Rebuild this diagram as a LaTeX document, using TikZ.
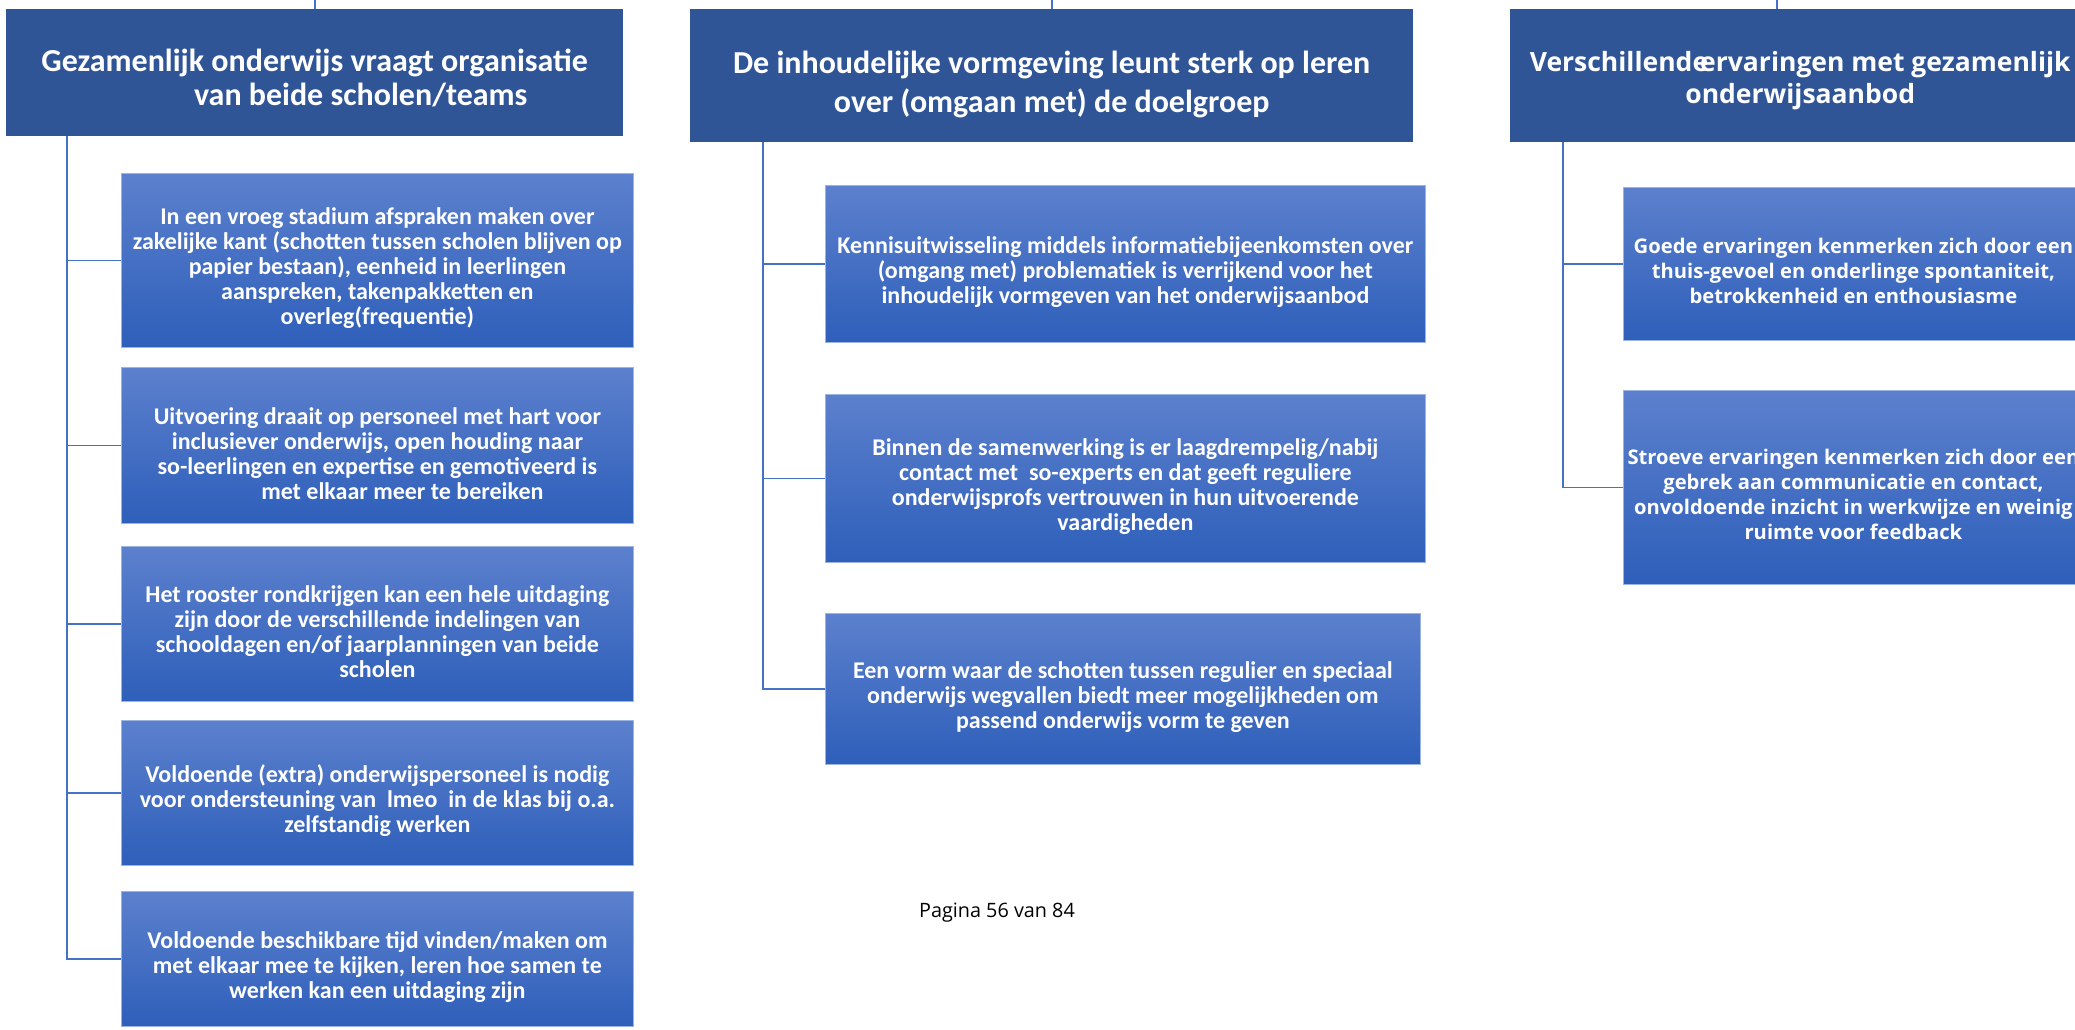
\documentclass[tikz,border=0pt]{standalone}
\usepackage{fontspec}
\setmainfont{Carlito}
\newfontfamily\opensans{Open Sans}
\usepackage{tikz}

\definecolor{kopblauw}{RGB}{47,85,151}
\definecolor{vaktop}{RGB}{92,128,205}
\definecolor{vakbodem}{RGB}{46,95,186}
\definecolor{lijnblauw}{RGB}{68,114,196}

\newcommand{\hoog}[1]{\rule{0pt}{#1}}

\begin{document}
\begin{tikzpicture}[x=1pt,y=-1pt,
	kop/.style={fill=kopblauw, text=white, align=center, anchor=north west, inner sep=0pt,
		font=\bfseries\fontsize{32}{34}\selectfont},
	vak/.style={top color=vaktop, bottom color=vakbodem, draw=vaktop!60!white, line width=0.8pt,
		text=white, align=center, anchor=north west, inner sep=0pt,
		font=\bfseries\fontsize{24}{25}\selectfont},
	vakr/.style={vak, font=\opensans\bfseries\fontsize{20.2}{25}\selectfont},
	tak/.style={draw=lijnblauw, line width=1.6pt}]
	\useasboundingbox (0,0) rectangle (2075,1029);

	\draw[] (6,9) node[kop, minimum width=617pt, minimum height=127pt] (Hleft) {\hoog{34pt}Gezamenlijk onderwijs vraagt organisatie\\\hspace*{92pt}van beide scholen/teams};
	\draw[] (690,9) node[kop, minimum width=723pt, minimum height=133pt, font=\bfseries\fontsize{32}{39}\selectfont] (Hmiddle) {\hoog{41pt}De inhoudelijke vormgeving leunt sterk op leren\\over (omgaan met) de doelgroep};
	\draw[] (1510,9) node[kop, minimum width=580pt, minimum height=133pt, font=\opensans\bfseries\fontsize{26.5}{32}\selectfont] (Hright) {\hoog{30pt}Verschillende\kern-.3em ervaringen met gezamenlijk\\onderwijsaanbod};

	\draw[] (121,173) node[vak, minimum width=512pt, minimum height=174pt] (Cleft1) {\hoog{33pt}In een vroeg stadium afspraken maken over\\zakelijke kant (schotten tussen scholen blijven op\\papier bestaan), eenheid in leerlingen\\aanspreken, takenpakketten en\\overleg(frequentie)};
	\draw[] (121,367) node[vak, minimum width=512pt, minimum height=156pt] (Cleft2) {\hoog{33pt}Uitvoering draait op personeel met hart voor\\inclusiever onderwijs, open houding naar\\so-leerlingen en expertise en gemotiveerd is\\\hspace*{50pt}met elkaar meer te bereiken};
	\draw[] (121,546) node[vak, minimum width=512pt, minimum height=155pt] (Cleft3) {\hoog{33pt}Het rooster rondkrijgen kan een hele uitdaging\\zijn door de verschillende indelingen van\\schooldagen en/of jaarplanningen van beide\\scholen};
	\draw[] (121,720) node[vak, minimum width=512pt, minimum height=145pt] (Cleft4) {\hoog{33pt}Voldoende (extra) onderwijspersoneel is nodig\\voor ondersteuning van~~lmeo~~in de klas bij o.a.\\zelfstandig werken};
	\draw[] (121,891) node[vak, minimum width=512pt, minimum height=135pt] (Cleft5) {\hoog{33pt}Voldoende beschikbare tijd vinden/maken om\\met elkaar mee te kijken, leren hoe samen te\\werken kan een uitdaging zijn};

	\draw[] (825,185) node[vak, minimum width=600pt, minimum height=157pt] (Cmiddle1) {\hoog{33pt}Kennisuitwisseling middels informatiebijeenkomsten over\\(omgang met) problematiek is verrijkend voor het\\inhoudelijk vormgeven van het onderwijsaanbod};
	\draw[] (825,394) node[vak, minimum width=600pt, minimum height=168pt] (Cmiddle2) {\hoog{33pt}Binnen de samenwerking is er laagdrempelig/nabij\\contact met~~so-experts en dat geeft reguliere\\onderwijsprofs vertrouwen in hun uitvoerende\\vaardigheden};
	\draw[] (825,613) node[vak, minimum width=595pt, minimum height=151pt] (Cmiddle3) {\hoog{33pt}Een vorm waar de schotten tussen regulier en speciaal\\onderwijs wegvallen biedt meer mogelijkheden om\\passend onderwijs vorm te geven};

	\draw[] (1623,187) node[vakr, minimum width=460pt, minimum height=153pt] (Cright1) {\hoog{30pt}Goede ervaringen kenmerken zich door een\\thuis-gevoel en onderlinge spontaniteit,\\betrokkenheid en enthousiasme};
	\draw[] (1623,390) node[vakr, minimum width=460pt, minimum height=194pt] (Cright2) {\hoog{30pt}Stroeve ervaringen kenmerken zich door een\\gebrek aan communicatie en contact,\\onvoldoende inzicht in werkwijze en weinig\\ruimte voor feedback};

	\draw[] (997,913) node[font=\opensans\fontsize{19.8}{22}\selectfont] (Pagina) {Pagina 56 van 84};

	\coordinate (Tleft) at (67,0);
	\coordinate (Tmiddle) at (763,0);
	\coordinate (Tright) at (1563,0);
	\coordinate (Sright) at (1777,0);

	\draw[tak] (Hleft.north) -- (Hleft.north |- Tleft);
	\draw[tak] (Hmiddle.north) -- (Hmiddle.north |- Tmiddle);
	\draw[tak] (Sright) -- (Sright |- Hright.north);

	\draw[tak] (Hleft.south -| Tleft) |- (Cleft1.west);
	\draw[tak] (Hleft.south -| Tleft) |- (Cleft2.west);
	\draw[tak] (Hleft.south -| Tleft) |- (Cleft3.west);
	\draw[tak] (Hleft.south -| Tleft) |- (Cleft4.west);
	\draw[tak] (Hleft.south -| Tleft) |- (Cleft5.west);
	\draw[tak] (Hmiddle.south -| Tmiddle) |- (Cmiddle1.west);
	\draw[tak] (Hmiddle.south -| Tmiddle) |- (Cmiddle2.west);
	\draw[tak] (Hmiddle.south -| Tmiddle) |- (Cmiddle3.west);
	\draw[tak] (Hright.south -| Tright) |- (Cright1.west);
	\draw[tak] (Hright.south -| Tright) |- (Cright2.west);
\end{tikzpicture}
\end{document}
